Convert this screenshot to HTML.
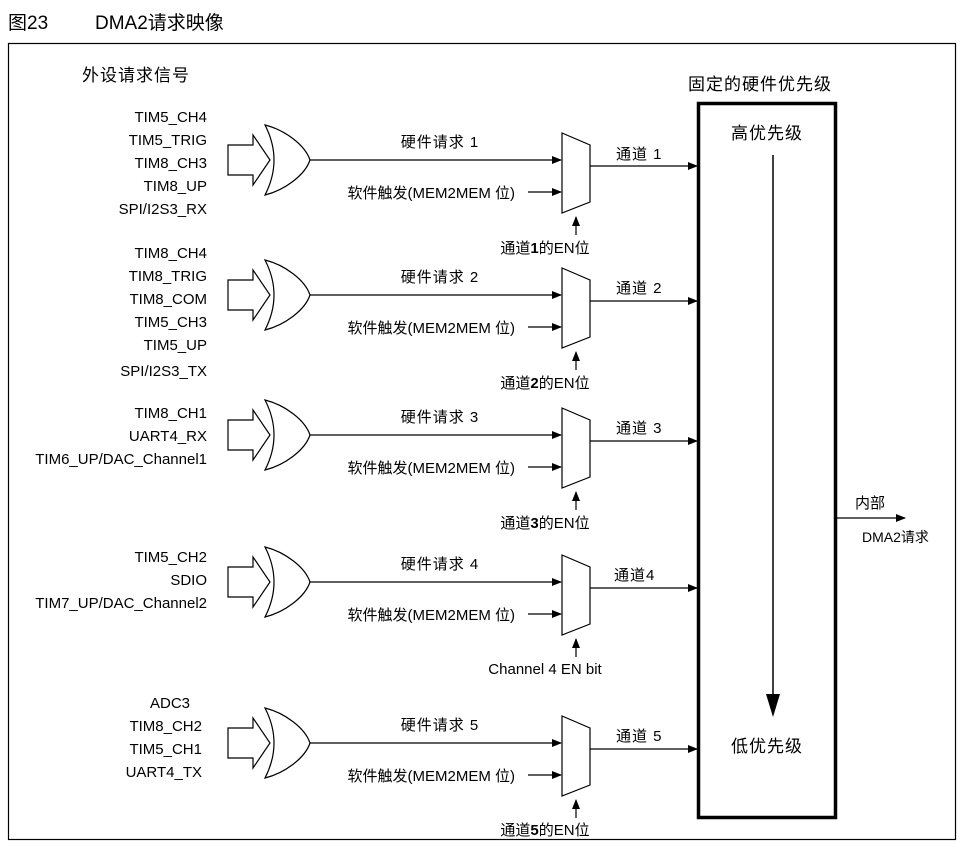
<!DOCTYPE html>
<html><head><meta charset="utf-8"><style>
html,body{margin:0;padding:0;background:#fff;}
svg{display:block;}
text{font-family:"Liberation Sans","Noto Sans CJK SC",sans-serif;fill:#000;}
</style></head><body>
<svg width="959" height="844" viewBox="0 0 959 844" xmlns="http://www.w3.org/2000/svg">
<defs>
<marker id="ah" markerWidth="10" markerHeight="8" refX="9" refY="4" orient="auto" markerUnits="userSpaceOnUse">
<path d="M0,0 L10,4 L0,8 Z" fill="#000"/></marker>
<g id="grp" fill="none" stroke="#000" stroke-width="1.2">
<polygon points="228,-15 253,-15 253,-25 270,0 253,25 253,15 228,15" fill="#fff"/>
<path d="M265,-35 C285,-30 305,-15 310,0 C305,15 285,30 265,35 Q283,0 265,-35 Z" fill="#fff"/>
<line x1="310" y1="0" x2="561" y2="0" marker-end="url(#ah)"/>
<line x1="528" y1="32" x2="561" y2="32" marker-end="url(#ah)"/>
<polygon points="562,-27 590,-15 590,42 562,53" fill="#fff"/>
<line x1="590" y1="6" x2="697" y2="6" marker-end="url(#ah)"/>
<line x1="576" y1="75" x2="576" y2="57" marker-end="url(#ah)"/>
</g>
</defs>
<text x="8" y="29" font-size="19">图23</text>
<text x="95" y="29" font-size="19">DMA2请求映像</text>
<rect x="8.5" y="43.5" width="947" height="796" fill="none" stroke="#000" stroke-width="1.2"/>
<text x="82" y="81" font-size="17" letter-spacing="1">外设请求信号</text>
<text x="760" y="90" font-size="17" text-anchor="middle" letter-spacing="1">固定的硬件优先级</text>
<rect x="698.5" y="103.5" width="137" height="714" fill="none" stroke="#000" stroke-width="3.5"/>
<text x="767" y="139" font-size="17" text-anchor="middle" letter-spacing="1">高优先级</text>
<text x="767" y="752" font-size="17" text-anchor="middle" letter-spacing="1">低优先级</text>
<line x1="773" y1="155" x2="773" y2="700" stroke="#000" stroke-width="1.5"/>
<polygon points="766,694 780,694 773,717" fill="#000"/>
<line x1="837" y1="518" x2="905" y2="518" stroke="#000" stroke-width="1.2" marker-end="url(#ah)"/>
<text x="855" y="508" font-size="15">内部</text>
<text x="862" y="542" font-size="14">DMA2请求</text>

<g font-size="15">
<use href="#grp" transform="translate(0,160)"/>
<text x="440" y="147" text-anchor="middle" letter-spacing="1">硬件请求 1</text>
<text x="515" y="198" text-anchor="end">软件触发(MEM2MEM 位)</text>
<text x="616" y="159" letter-spacing="1">通道 1</text>
<text x="545" y="253" text-anchor="middle">通道<tspan font-weight="bold">1</tspan>的EN位</text>
<text x="207" y="122" text-anchor="end">TIM5_CH4</text>
<text x="207" y="145" text-anchor="end">TIM5_TRIG</text>
<text x="207" y="168" text-anchor="end">TIM8_CH3</text>
<text x="207" y="191" text-anchor="end">TIM8_UP</text>
<text x="207" y="214" text-anchor="end">SPI/I2S3_RX</text>

<use href="#grp" transform="translate(0,295)"/>
<text x="440" y="282" text-anchor="middle" letter-spacing="1">硬件请求 2</text>
<text x="515" y="333" text-anchor="end">软件触发(MEM2MEM 位)</text>
<text x="616" y="293" letter-spacing="1">通道 2</text>
<text x="545" y="388" text-anchor="middle">通道<tspan font-weight="bold">2</tspan>的EN位</text>
<text x="207" y="258" text-anchor="end">TIM8_CH4</text>
<text x="207" y="281" text-anchor="end">TIM8_TRIG</text>
<text x="207" y="304" text-anchor="end">TIM8_COM</text>
<text x="207" y="327" text-anchor="end">TIM5_CH3</text>
<text x="207" y="350" text-anchor="end">TIM5_UP</text>
<text x="207" y="376" text-anchor="end">SPI/I2S3_TX</text>

<use href="#grp" transform="translate(0,435)"/>
<text x="440" y="422" text-anchor="middle" letter-spacing="1">硬件请求 3</text>
<text x="515" y="473" text-anchor="end">软件触发(MEM2MEM 位)</text>
<text x="616" y="433" letter-spacing="1">通道 3</text>
<text x="545" y="528" text-anchor="middle">通道<tspan font-weight="bold">3</tspan>的EN位</text>
<text x="207" y="418" text-anchor="end">TIM8_CH1</text>
<text x="207" y="441" text-anchor="end">UART4_RX</text>
<text x="207" y="464" text-anchor="end">TIM6_UP/DAC_Channel1</text>

<use href="#grp" transform="translate(0,582)"/>
<text x="440" y="569" text-anchor="middle" letter-spacing="1">硬件请求 4</text>
<text x="515" y="620" text-anchor="end">软件触发(MEM2MEM 位)</text>
<text x="614" y="580" letter-spacing="1">通道4</text>
<text x="545" y="674" text-anchor="middle">Channel 4 EN bit</text>
<text x="207" y="562" text-anchor="end">TIM5_CH2</text>
<text x="207" y="585" text-anchor="end">SDIO</text>
<text x="207" y="608" text-anchor="end">TIM7_UP/DAC_Channel2</text>

<use href="#grp" transform="translate(0,743)"/>
<text x="440" y="730" text-anchor="middle" letter-spacing="1">硬件请求 5</text>
<text x="515" y="781" text-anchor="end">软件触发(MEM2MEM 位)</text>
<text x="616" y="741" letter-spacing="1">通道 5</text>
<text x="545" y="835" text-anchor="middle">通道<tspan font-weight="bold">5</tspan>的EN位</text>
<text x="190" y="708" text-anchor="end">ADC3</text>
<text x="202" y="731" text-anchor="end">TIM8_CH2</text>
<text x="202" y="754" text-anchor="end">TIM5_CH1</text>
<text x="202" y="777" text-anchor="end">UART4_TX</text>
</g>
</svg>
</body></html>
